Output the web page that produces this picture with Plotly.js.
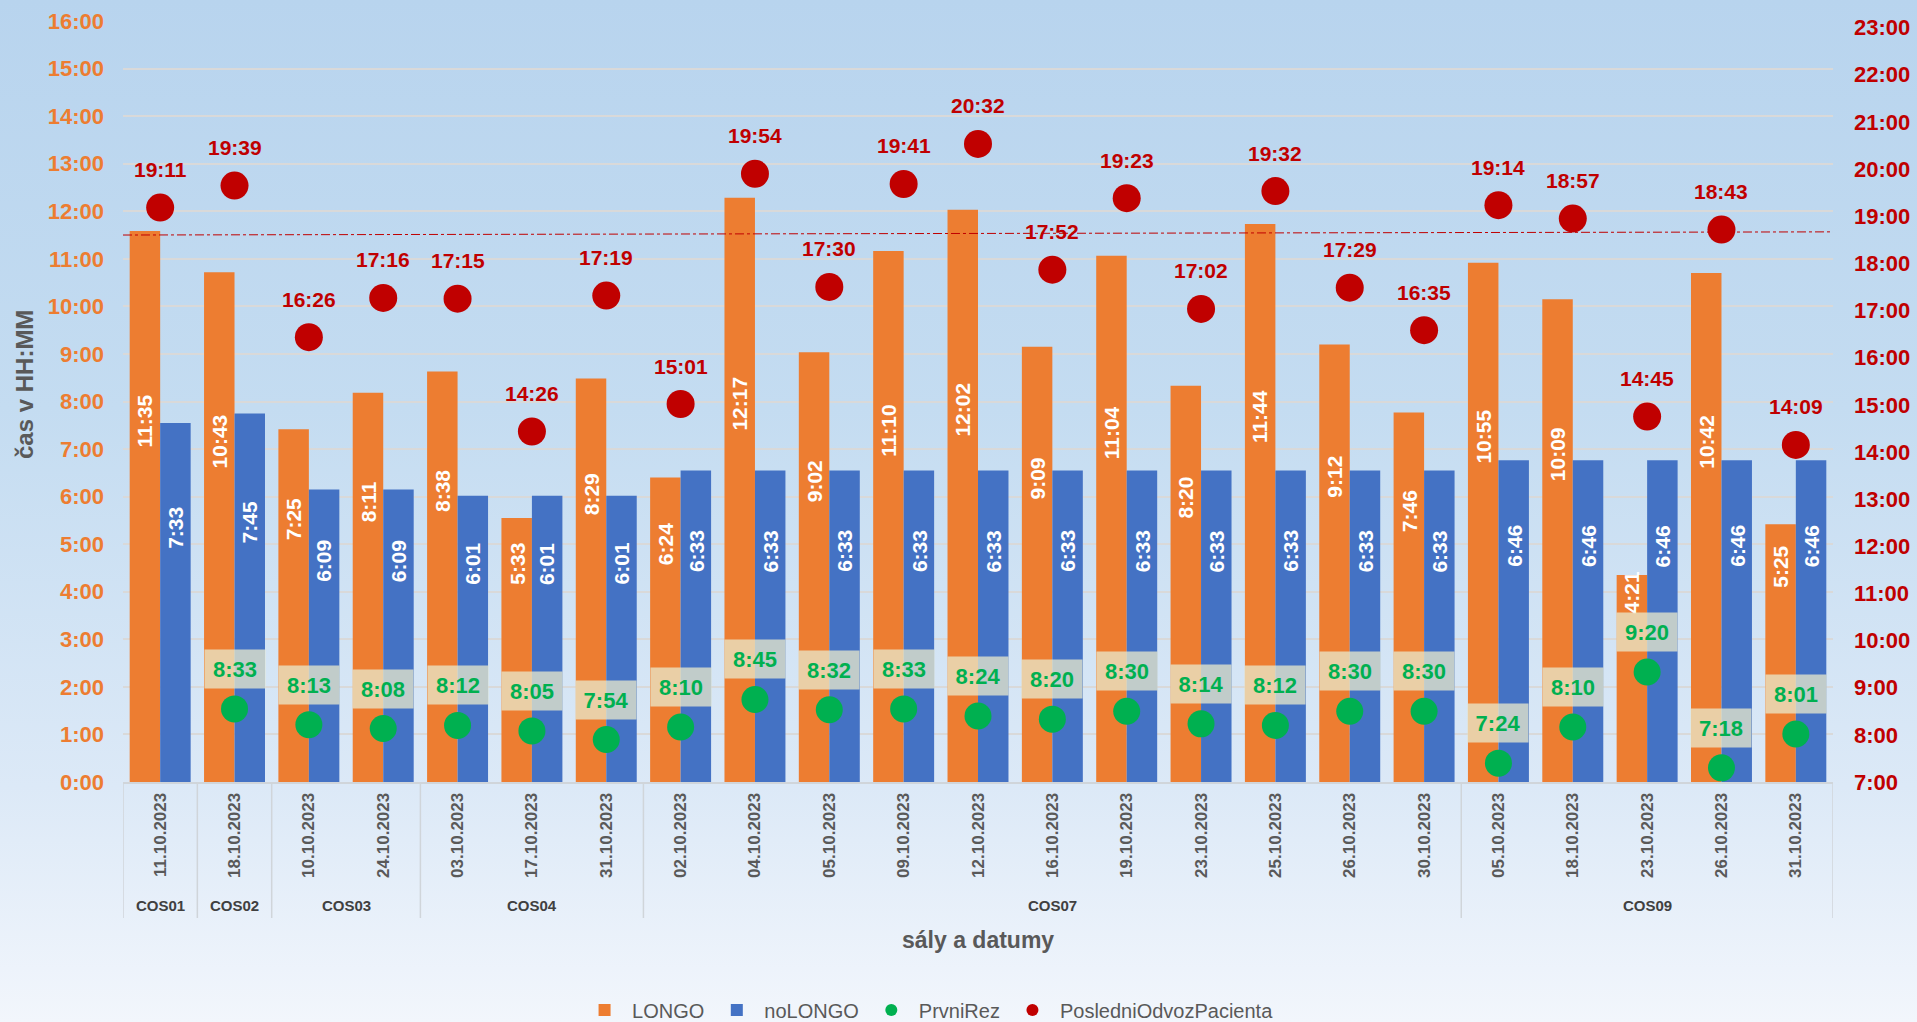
<!DOCTYPE html>
<html>
<head>
<meta charset="utf-8">
<script src="https://cdn.plot.ly/plotly-3.0.1.min.js"></script>
<style>
  html, body { margin: 0; padding: 0; width: 1917px; height: 1022px; overflow: hidden;
    background: linear-gradient(to bottom, #B8D4EE 0%, #C4DCF1 40%, #DCE9F7 77%, #F2F6FC 100%); }
  #chart { width: 1917px; height: 1022px; }
</style>
</head>
<body>
<div id="chart"></div>
<script>
// ---- data ----
const groups = ['COS01','COS02','COS03','COS03','COS04','COS04','COS04',
  'COS07','COS07','COS07','COS07','COS07','COS07','COS07','COS07','COS07','COS07','COS07',
  'COS09','COS09','COS09','COS09','COS09'];
const dates = ['11.10.2023','18.10.2023','10.10.2023','24.10.2023','03.10.2023','17.10.2023','31.10.2023',
  '02.10.2023','04.10.2023','05.10.2023','09.10.2023','12.10.2023','16.10.2023','19.10.2023','23.10.2023',
  '25.10.2023','26.10.2023','30.10.2023','05.10.2023','18.10.2023','23.10.2023','26.10.2023','31.10.2023'];
const longo = ['11:35','10:43','7:25','8:11','8:38','5:33','8:29','6:24','12:17','9:02','11:10','12:02',
  '9:09','11:04','8:20','11:44','9:12','7:46','10:55','10:09','4:21','10:42','5:25'];
const noLongo = ['7:33','7:45','6:09','6:09','6:01','6:01','6:01','6:33','6:33','6:33','6:33','6:33',
  '6:33','6:33','6:33','6:33','6:33','6:33','6:46','6:46','6:46','6:46','6:46'];
const prvniRez = [null,'8:33','8:13','8:08','8:12','8:05','7:54','8:10','8:45','8:32','8:33','8:24',
  '8:20','8:30','8:14','8:12','8:30','8:30','7:24','8:10','9:20','7:18','8:01'];
const posledniOdvoz = ['19:11','19:39','16:26','17:16','17:15','14:26','17:19','15:01','19:54','17:30',
  '19:41','20:32','17:52','19:23','17:02','19:32','17:29','16:35','19:14','18:57','14:45','18:43','14:09'];
const leftTicks = ['0:00','1:00','2:00','3:00','4:00','5:00','6:00','7:00','8:00','9:00','10:00',
  '11:00','12:00','13:00','14:00','15:00','16:00'];
const rightTicks = ['7:00','8:00','9:00','10:00','11:00','12:00','13:00','14:00','15:00','16:00',
  '17:00','18:00','19:00','20:00','21:00','22:00','23:00'];
const limitLine = ['11:30','11:34'];

// ---- helpers ----
const toH = s => { if (s === null) return null; const p = s.split(':'); return (+p[0]) + (+p[1]) / 60; };
const idx = dates.map((d, i) => i);
const longoH = longo.map(toH), noLongoH = noLongo.map(toH);
const rezH = prvniRez.map(toH), odvozH = posledniOdvoz.map(toH);
const leftVals = leftTicks.map(toH), rightVals = rightTicks.map(toH);

const FONT = 'Liberation Sans, Arial, sans-serif';
const ORANGE = '#ED7D31', BLUE = '#4472C4', GREEN = '#00B050', RED = '#C00000', GRAY = '#595959';
const BARGAP = 0.18;
const half = (1 - BARGAP) / 4;

const traces = [
  { type: 'bar', name: 'LONGO', x: idx, y: longoH, marker: { color: ORANGE }, hoverinfo: 'skip' },
  { type: 'bar', name: 'noLONGO', x: idx, y: noLongoH, marker: { color: BLUE }, hoverinfo: 'skip' },
  { type: 'scatter', mode: 'markers', name: 'PrvniRez', x: idx, y: rezH, yaxis: 'y2',
    marker: { color: GREEN, size: 27 }, hoverinfo: 'skip' },
  { type: 'scatter', mode: 'markers', name: 'PosledniOdvozPacienta', x: idx, y: odvozH, yaxis: 'y2',
    marker: { color: RED, size: 28 }, hoverinfo: 'skip' }
];

const ann = [];
idx.forEach(i => {
  ann.push({ x: i - half, y: longoH[i] / 2, xref: 'x', yref: 'y', yshift: 86, text: longo[i], textangle: -90,
    showarrow: false, font: { family: FONT, size: 21, color: '#FFFFFF', weight: 'bold' } });
  ann.push({ x: i + half, y: noLongoH[i] / 2, xref: 'x', yref: 'y', yshift: 75, text: noLongo[i], textangle: -90,
    showarrow: false, font: { family: FONT, size: 21, color: '#FFFFFF', weight: 'bold' } });
  if (rezH[i] !== null) {
    ann.push({ x: i, y: rezH[i], xref: 'x', yref: 'y2', yshift: 40, text: prvniRez[i], showarrow: false,
      bgcolor: 'rgba(232,232,204,0.76)', width: 56, height: 34, borderpad: 2,
      font: { family: FONT, size: 22, color: GREEN, weight: 'bold' } });
  }
  ann.push({ x: i, y: odvozH[i], xref: 'x', yref: 'y2', yshift: 38, text: posledniOdvoz[i], showarrow: false,
    font: { family: FONT, size: 21, color: RED, weight: 'bold' } });
});

// group labels and dividers
const groupNames = [], groupStart = [], groupEnd = [];
groups.forEach((g, i) => {
  if (i === 0 || groups[i - 1] !== g) { groupNames.push(g); groupStart.push(i); groupEnd.push(i); }
  else groupEnd[groupEnd.length - 1] = i;
});
const shapes = [];
const divBottom = -136 / 761;
groupNames.forEach((g, k) => {
  ann.push({ x: (groupStart[k] + groupEnd[k]) / 2, y: 0, xref: 'x', yref: 'paper', yshift: -123,
    yanchor: 'middle', xanchor: 'center',
    text: g, showarrow: false, font: { family: FONT, size: 15, color: '#404040', weight: 'bold' } });
  shapes.push({ type: 'line', xref: 'x', yref: 'paper', x0: groupStart[k] - 0.5, x1: groupStart[k] - 0.5,
    y0: 0, y1: divBottom, line: { color: '#D0D5DA', width: 1.5 } });
});
shapes.push({ type: 'line', xref: 'x', yref: 'paper', x0: idx.length - 0.5, x1: idx.length - 0.5,
  y0: 0, y1: divBottom, line: { color: '#D0D5DA', width: 1.5 } });

// limit line
shapes.push({ type: 'line', xref: 'paper', yref: 'y', x0: 0, x1: 1, y0: toH(limitLine[0]), y1: toH(limitLine[1]),
  line: { color: RED, width: 1, dash: 'dashdot' }, layer: 'above' });

// axis titles
ann.push({ xref: 'paper', yref: 'paper', x: 0.5, y: 0, yshift: -158, xanchor: 'center', yanchor: 'middle',
  text: 'sály a datumy', showarrow: false, font: { family: FONT, size: 23, color: GRAY, weight: 'bold' } });
ann.push({ xref: 'paper', yref: 'paper', x: (25 - 123) / 1710, y: (782 - 385) / 761, xanchor: 'center',
  yanchor: 'middle', text: 'čas v HH:MM', textangle: -90, showarrow: false,
  font: { family: FONT, size: 24, color: GRAY, weight: 'bold' } });

const layout = {
  width: 1917, height: 1022,
  margin: { l: 123, r: 84, t: 21, b: 240, autoexpand: false },
  paper_bgcolor: 'rgba(0,0,0,0)', plot_bgcolor: 'rgba(0,0,0,0)',
  barmode: 'group', bargap: BARGAP, bargroupgap: 0,
  showlegend: true,
  legend: { orientation: 'h', x: 0.4708, xanchor: 'center', y: -0.2996, yanchor: 'middle',
    itemwidth: 45,
    font: { family: FONT, size: 20, color: GRAY }, itemsizing: 'constant', bgcolor: 'rgba(0,0,0,0)' },
  xaxis: { range: [-0.5, idx.length - 0.5], tickmode: 'array', tickvals: idx, ticktext: dates,
    tickangle: -90, ticks: '', ticklabelstandoff: 2, showgrid: false, zeroline: false,
    showline: true, linecolor: '#D0D5DA', linewidth: 2,
    tickfont: { family: FONT, size: 17, color: GRAY, weight: 'bold' } },
  yaxis: { range: [0, 16], tickmode: 'array', tickvals: leftVals, ticktext: leftTicks, ticks: '',
    ticklabelstandoff: 18, showgrid: true, gridcolor: '#D9D9D9', gridwidth: 2, zeroline: false,
    tickfont: { family: FONT, size: 22, color: ORANGE, weight: 'bold' } },
  yaxis2: { overlaying: 'y', side: 'right', range: [7, 23.14], tickmode: 'array', tickvals: rightVals,
    ticktext: rightTicks, ticks: '', ticklabelstandoff: 20, showgrid: false, zeroline: false,
    tickfont: { family: FONT, size: 22, color: RED, weight: 'bold' } },
  annotations: ann,
  shapes: shapes
};

Plotly.newPlot('chart', traces, layout, { displayModeBar: false, staticPlot: true });
</script>
</body>
</html>
